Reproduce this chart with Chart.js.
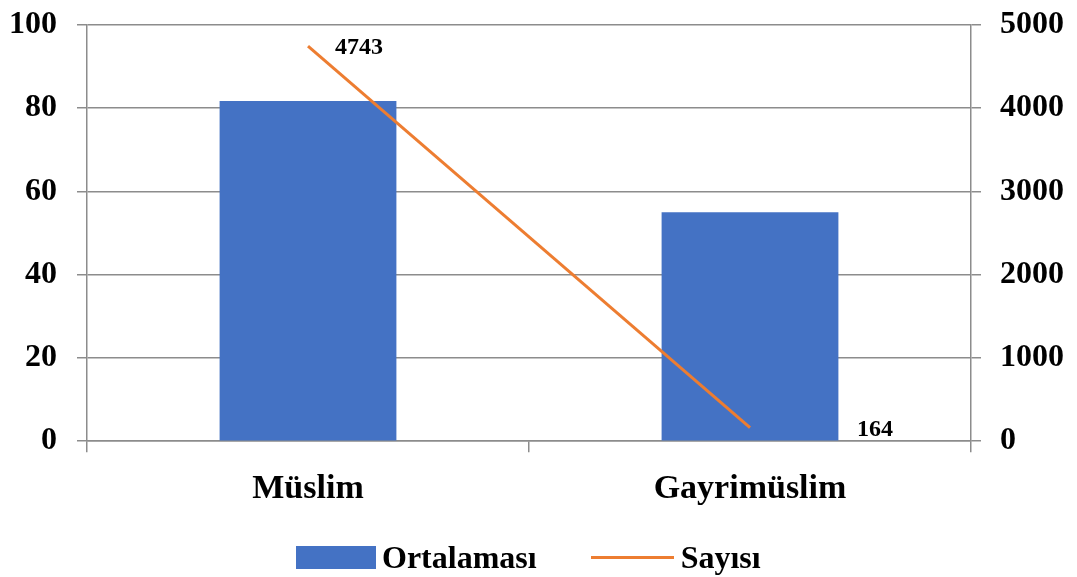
<!DOCTYPE html>
<html>
<head>
<meta charset="utf-8">
<script src="https://cdn.jsdelivr.net/npm/chart.js@4"></script>
<style>
  body { margin: 0; background: #fff; }
  .wrap { position: relative; width: 1077px; height: 577px; }
  .legend {
    position: absolute; left: 296px; top: 537px; height: 40px;
    display: flex; align-items: center;
    font: bold 32px "Liberation Serif", serif; color: #000;
  }
  .legend .item { display: flex; align-items: center; }
  .legend .box { width: 80px; height: 23px; background: #4472C4; margin-right: 6px; }
  .legend .line { width: 83px; height: 3px; background: #ED7D31; margin-right: 7px; }
</style>
</head>
<body>
<div class="wrap">
  <canvas id="chart" width="1077" height="577"></canvas>
  <div class="legend">
    <div class="item" style="margin-right:54px"><span class="box"></span><span id="lgBar"></span></div>
    <div class="item"><span class="line"></span><span id="lgLine"></span></div>
  </div>
</div>
<script>
// DATA
const categories = ["Müslim", "Gayrimüslim"];
const ortalamasi = [81.7, 55.0];
const sayisi = [4743, 164];
const leftTicks = [0, 20, 40, 60, 80, 100];
const rightTicks = [0, 1000, 2000, 3000, 4000, 5000];
const seriesNames = ["Ortalaması", "Sayısı"];

document.getElementById("lgBar").textContent = seriesNames[0];
document.getElementById("lgLine").textContent = seriesNames[1];

const gridColor = "#8c8c8c";
const yFont = { family: "Liberation Serif", size: 32, weight: "bold", lineHeight: 0.3 };
const xFont = { family: "Liberation Serif", size: 34, weight: "bold" };

// line value labels, placed to the right of each point
const labelOffsets = [27, 107];
const valueLabels = {
    id: "valueLabels",
    afterDatasetsDraw(chart) {
        const ctx = chart.ctx;
        const meta = chart.getDatasetMeta(chart.data.datasets.findIndex(d => d.type === "line"));
        ctx.save();
        ctx.font = "bold 24px 'Liberation Serif'";
        ctx.fillStyle = "#000";
        ctx.textBaseline = "middle";
        meta.data.forEach((pt, i) => {
            ctx.fillText(String(sayisi[i]), pt.x + labelOffsets[i], pt.y + 2);
        });
        ctx.restore();
    }
};

new Chart(document.getElementById("chart"), {
    data: {
        labels: categories,
        datasets: [{
            type: "bar",
            label: seriesNames[0],
            data: ortalamasi,
            yAxisID: "y",
            backgroundColor: "#4472C4",
            categoryPercentage: 1,
            barPercentage: 0.4,
            order: 1
        }, {
            type: "line",
            label: seriesNames[1],
            data: sayisi,
            yAxisID: "y1",
            borderColor: "#ED7D31",
            borderWidth: 3,
            pointRadius: 0,
            order: 0
        }]
    },
    options: {
        responsive: false,
        animation: false,
        layout: { padding: { left: 10, right: 0, top: 0, bottom: 50 } },
        plugins: { legend: { display: false }, tooltip: { enabled: false } },
        scales: {
            x: {
                offset: true,
                grid: { offset: true, drawOnChartArea: false, color: gridColor, lineWidth: 1.5, tickLength: 11 },
                border: { color: gridColor, width: 1.5 },
                ticks: { color: "#000", font: xFont, padding: 17 }
            },
            y: {
                position: "left",
                min: 0, max: 100,
                afterBuildTicks: axis => { axis.ticks = leftTicks.map(v => ({ value: v })); },
                afterFit: axis => { axis.width = 77; },
                grid: { color: gridColor, lineWidth: 1.5, tickLength: 10 },
                border: { color: gridColor, width: 1.5 },
                ticks: { color: "#000", font: yFont, padding: 20, callback: v => String(v) }
            },
            y1: {
                position: "right",
                min: 0, max: 5000,
                afterBuildTicks: axis => { axis.ticks = rightTicks.map(v => ({ value: v })); },
                afterFit: axis => { axis.width = 106; },
                grid: { drawOnChartArea: false, color: gridColor, lineWidth: 1.5, tickLength: 10 },
                border: { color: gridColor, width: 1.5 },
                ticks: { color: "#000", font: yFont, padding: 19, callback: v => String(v) }
            }
        }
    },
    plugins: [valueLabels]
});
</script>
</body>
</html>
